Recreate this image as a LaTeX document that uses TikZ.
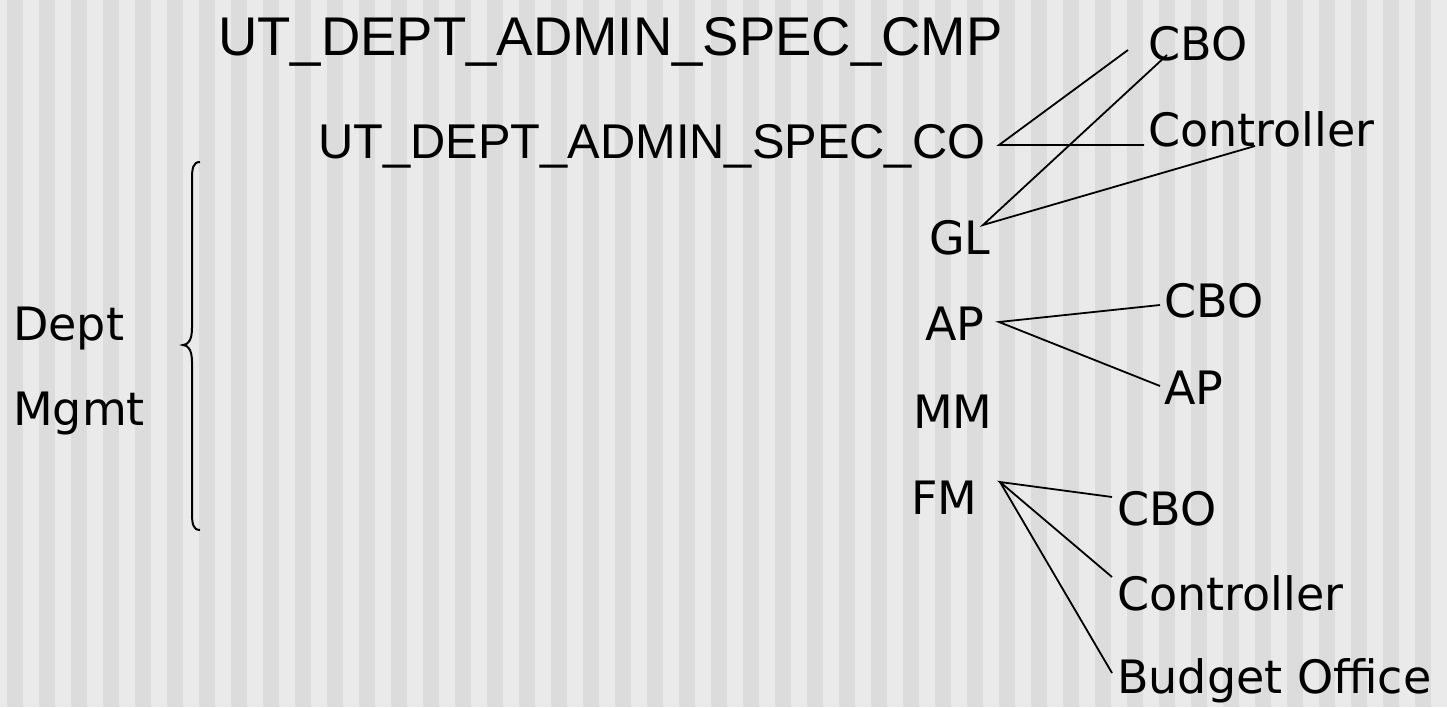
\documentclass[tikz,border=0pt]{standalone}
\usepackage{fontspec}
\setmainfont{DejaVu Sans}
\newfontfamily\arialf{Liberation Sans}
\definecolor{stripelight}{HTML}{EAEAEA}
\definecolor{stripedark}{HTML}{DCDCDC}
\begin{document}
\begin{tikzpicture}[x=1pt,y=-1pt,
  lbl/.style={anchor=base west,inner sep=0pt,font=\fontsize{46}{50}\selectfont},
  ttl/.style={anchor=base west,inner sep=0pt},
  conn/.style={draw=black,line width=1.8pt}]
\useasboundingbox (0,0) rectangle (1447,707);
\fill[stripelight] (0,0) rectangle (1447,707);
\foreach \k in {0,...,44}{\fill[stripedark] (7+32*\k,0) rectangle (23+32*\k,707);}
% titles
\node[ttl,font=\arialf\fontsize{54.5}{58}\selectfont] (cmp) at (218,55) {UT\_DEPT\_ADMIN\_SPEC\_CMP};
\node[ttl,font=\arialf\fontsize{48.8}{52}\selectfont] (co) at (318,158) {UT\_DEPT\_ADMIN\_SPEC\_CO};
% left
\node[lbl] (dept) at (13,340) {Dept};
\node[lbl] (mgmt) at (13,425) {Mgmt};
% middle
\node[lbl] (gl) at (929,254) {GL};
\node[lbl] (ap) at (925,340) {AP};
\node[lbl] (mm) at (913,428) {MM};
\node[lbl] (fm) at (911,514) {FM};
% right
\node[lbl] (cbo1) at (1148,60) {CBO};
\node[lbl] (ctl1) at (1148,146) {Controller};
\node[lbl] (cbo2) at (1164,317) {CBO};
\node[lbl] (ap2) at (1164,404) {AP};
\node[lbl] (cbo3) at (1117,525) {CBO};
\node[lbl] (ctl3) at (1117,610) {Controller};
\node[lbl] (bud) at (1117,693) {Budget Office};
% connector points
\coordinate (coR) at (999,145);
\coordinate (cbo1L) at (1128,50);
\coordinate (ctl1L) at (1144,145);
\coordinate (glR) at (983,225);
\coordinate (cbo1B) at (1167,55);
\coordinate (ctl1B) at (1255,146);
\coordinate (apR) at (999,322);
\coordinate (cbo2L) at (1160,305);
\coordinate (ap2L) at (1160,386);
\coordinate (fmR) at (1000,482);
\coordinate (cbo3L) at (1112,497);
\coordinate (ctl3L) at (1112,577);
\coordinate (budL) at (1112,673);
\draw[conn] (cbo1L) -- (coR) -- (ctl1L);
\draw[conn] (cbo1B) -- (glR) -- (ctl1B);
\draw[conn] (cbo2L) -- (apR) -- (ap2L);
\draw[conn] (cbo3L) -- (fmR) -- (ctl3L);
\draw[conn] (fmR) -- (budL);
% brace
\coordinate (brtop) at (200,162);
\coordinate (brtip) at (183,345);
\coordinate (brbot) at (200,530);
\draw[line width=2pt] (brtop) .. controls (193,162) and (192,168) .. (192,180) -- (192,328)
  .. controls (192,340) and (188,345) .. (brtip)
  .. controls (188,345) and (192,350) .. (192,362) -- (192,512)
  .. controls (192,524) and (193,530) .. (brbot);
\end{tikzpicture}
\end{document}
